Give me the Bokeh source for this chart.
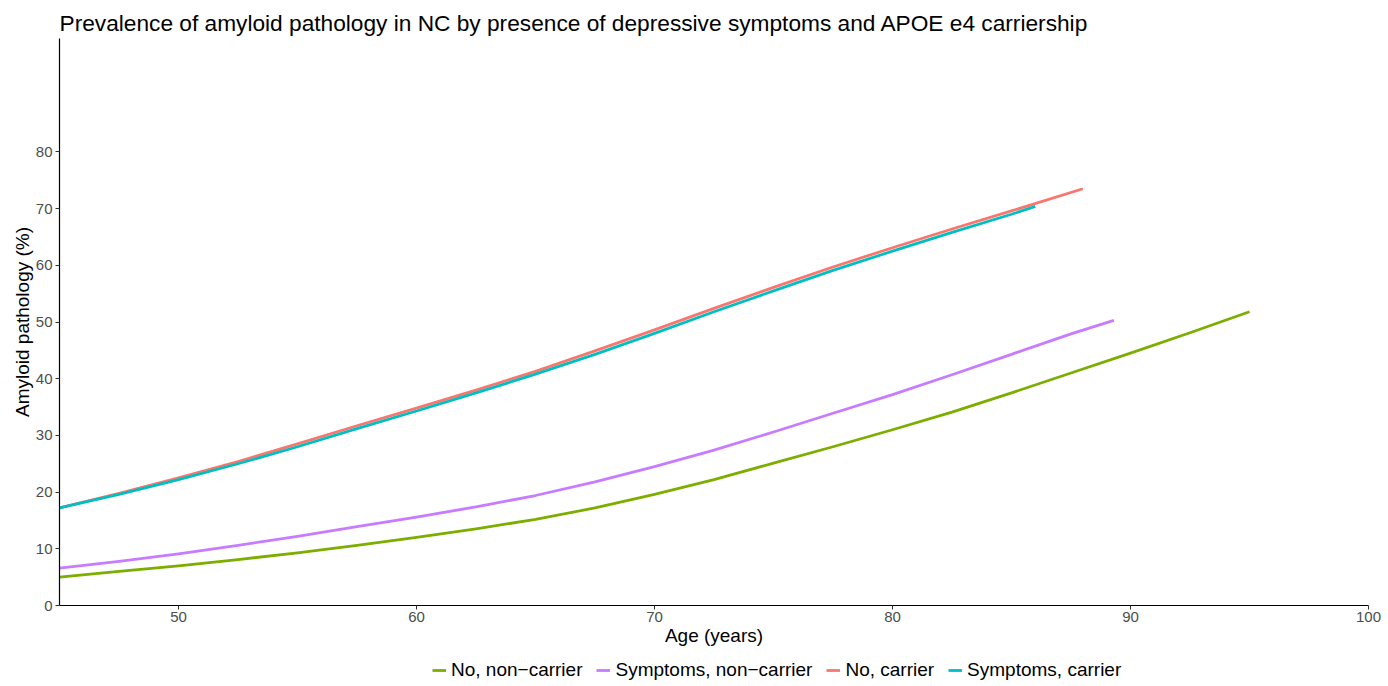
from bokeh.plotting import figure
from bokeh.layouts import column
from bokeh.models import Range1d, Legend, LegendItem, FixedTicker
from bokeh.embed import file_html
from bokeh.resources import INLINE

# Data (age in years, prevalence in %)
age_no_noncarrier = [45, 47.5, 50, 52.5, 55, 57.5, 60, 62.5, 65, 67.5, 70, 72.5, 75, 77.5, 80, 82.5, 85, 87.5, 90, 92.5, 95]
val_no_noncarrier = [5.0, 6.0, 7.0, 8.1, 9.3, 10.6, 12.0, 13.5, 15.2, 17.2, 19.6, 22.2, 25.1, 28.0, 31.0, 34.1, 37.5, 41.0, 44.5, 48.1, 51.8]

age_sym_noncarrier = [45, 47.5, 50, 52.5, 55, 57.5, 60, 62.5, 65, 67.5, 70, 72.5, 75, 77.5, 80, 82.5, 85, 87.5, 89.3]
val_sym_noncarrier = [6.6, 7.8, 9.1, 10.6, 12.2, 13.9, 15.6, 17.4, 19.4, 21.8, 24.5, 27.4, 30.6, 33.9, 37.2, 40.7, 44.3, 47.9, 50.3]

age_no_carrier = [45, 47.5, 50, 52.5, 55, 57.5, 60, 62.5, 65, 67.5, 70, 72.5, 75, 77.5, 80, 82.5, 85, 88]
val_no_carrier = [17.2, 19.8, 22.5, 25.4, 28.5, 31.7, 34.8, 38.0, 41.3, 44.9, 48.6, 52.4, 56.1, 59.7, 63.1, 66.4, 69.6, 73.5]

age_sym_carrier = [45, 47.5, 50, 52.5, 55, 57.5, 60, 62.5, 65, 67.5, 70, 72.5, 75, 77.5, 80, 82.5, 85, 86]
val_sym_carrier = [17.2, 19.6, 22.2, 25.0, 28.0, 31.2, 34.3, 37.5, 40.8, 44.3, 48.0, 51.8, 55.5, 59.1, 62.5, 65.8, 69.0, 70.4]

series_names = ["No, non\u2212carrier", "Symptoms, non\u2212carrier", "No, carrier", "Symptoms, carrier"]
series_colors = ["#7CAE00", "#C77CFF", "#F8766D", "#00BFC4"]
x_ticks = [50, 60, 70, 80, 90, 100]
y_ticks = [0, 10, 20, 30, 40, 50, 60, 70, 80]

FONT = "Liberation Sans"

p = figure(frame_width=1309, frame_height=567, output_backend="svg", toolbar_location=None,
           x_range=Range1d(45, 100), y_range=Range1d(0, 100),
           min_border_left=59, min_border_right=20, min_border_top=38, min_border_bottom=46,
           title="Prevalence of amyloid pathology in NC by presence of depressive symptoms and APOE e4 carriership")
p.outline_line_color = None
p.grid.visible = False
p.background_fill_color = "white"
p.border_fill_color = "white"

p.title.text_font = FONT
p.title.text_font_size = "22.7px"
p.title.text_font_style = "normal"
p.title.text_color = "black"
p.title.align = "left"
p.title.offset = 0
p.title.standoff = 6

for ax in (p.xaxis[0], p.yaxis[0]):
    ax.axis_line_color = "black"
    ax.axis_line_width = 1.2
    ax.major_tick_line_color = "#333333"
    ax.major_tick_in = 0
    ax.major_tick_out = 4
    ax.minor_tick_line_color = None
    ax.major_label_text_font = FONT
    ax.major_label_text_font_size = "15px"
    ax.major_label_text_color = "#4D4D4D"
    ax.axis_label_text_font = FONT
    ax.axis_label_text_font_size = "19px"
    ax.axis_label_text_font_style = "normal"
    ax.axis_label_text_color = "black"

p.xaxis.ticker = FixedTicker(ticks=x_ticks)
p.yaxis.ticker = FixedTicker(ticks=y_ticks)
p.xaxis.axis_label = "Age (years)"
p.yaxis.axis_label = "Amyloid pathology (%)"
p.xaxis.major_label_standoff = 2
p.xaxis.axis_label_standoff = 0
p.yaxis.major_label_standoff = 3
p.yaxis.axis_label_standoff = 0

ages = [age_no_noncarrier, age_sym_noncarrier, age_no_carrier, age_sym_carrier]
vals = [val_no_noncarrier, val_sym_noncarrier, val_no_carrier, val_sym_carrier]
for a, v, c in zip(ages, vals, series_colors):
    p.line(a, v, line_color=c, line_width=2.8, line_join="round")

# Separate strip for the legend below the plot (its lines lie outside its view range,
# only the legend glyphs and labels are visible)
leg_fig = figure(width=1388, height=36, output_backend="svg", toolbar_location=None,
                 x_range=Range1d(0, 1), y_range=Range1d(0, 1), min_border=0,
                 x_axis_location=None, y_axis_location=None)
leg_fig.grid.visible = False
leg_fig.outline_line_color = None
leg_fig.background_fill_color = "white"
leg_fig.border_fill_color = "white"

items = []
for a, v, name, c in zip(ages, vals, series_names, series_colors):
    r = leg_fig.line(a, v, line_color=c, line_width=2.8)
    items.append(LegendItem(label=name, renderers=[r]))

legend = Legend(items=items, orientation="horizontal", location=(373, 6),
                label_text_font=FONT, label_text_font_size="19px", label_text_color="black",
                glyph_width=14, glyph_height=12, label_standoff=5, spacing=14,
                label_height=22, border_line_color=None, background_fill_alpha=0,
                padding=0, margin=0)
leg_fig.add_layout(legend, "center")

layout = column(p, leg_fig, spacing=0)
open("out.html", "w").write(file_html(layout, INLINE))
